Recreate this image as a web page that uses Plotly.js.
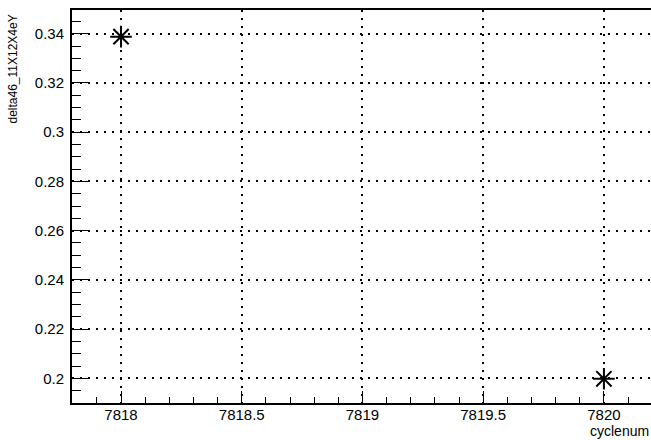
<!DOCTYPE html>
<html>
<head>
<meta charset="utf-8">
<script src="https://cdn.plot.ly/plotly-3.0.1.min.js"></script>
<style>html,body{margin:0;padding:0;background:#fff;overflow:hidden;}#chart{width:651px;height:440px;}</style>
</head>
<body>
<div id="chart"></div>
<script>
const cyclenum = [7818, 7820];
const delta46 = [0.3388, 0.1998];
const xTitle = "cyclenum";
const yTitle = "delta46_11X12X4eY";

const font = "Liberation Sans, Arial, Helvetica, sans-serif";
const trace = {
  x: cyclenum, y: delta46, type: "scatter", mode: "markers",
  marker: {symbol: "asterisk-open", size: 18, color: "#000", line: {color: "#000", width: 2}},
  hoverinfo: "none"
};
const layout = {
  width: 651, height: 440,
  margin: {l: 72, r: 0, t: 10, b: 37, pad: 0},
  paper_bgcolor: "#fff", plot_bgcolor: "#fff",
  showlegend: false,
  separators: ".",
  font: {family: font, size: 15, color: "#000"},
  xaxis: {
    range: [7817.797, 7820.195], tick0: 7818, dtick: 0.5, tickformat: ".6~g",
    ticks: "inside", ticklen: 12, tickwidth: 1, tickcolor: "#000",
    minor: {dtick: 0.1, ticks: "inside", ticklen: 6, tickcolor: "#000", tickwidth: 1, showgrid: false},
    showline: true, linecolor: "#000", linewidth: 2, mirror: true,
    showgrid: true, gridcolor: "#000", gridwidth: 2, griddash: "2px,6px",
    zeroline: false, tickfont: {family: font, size: 15, color: "#000"},
    ticklabelstandoff: -3
  },
  yaxis: {
    range: [0.18997, 0.34963], tick0: 0.2, dtick: 0.02, tickformat: ".3~g",
    ticks: "inside", ticklen: 17, tickwidth: 1, tickcolor: "#000",
    minor: {dtick: 0.005, ticks: "inside", ticklen: 9, tickcolor: "#000", tickwidth: 1, showgrid: false},
    showline: true, linecolor: "#000", linewidth: 2, mirror: false,
    showgrid: true, gridcolor: "#000", gridwidth: 2, griddash: "2px,6px",
    zeroline: false, tickfont: {family: font, size: 15, color: "#000"},
    ticklabelstandoff: 3
  },
  annotations: [
    {text: xTitle, xref: "paper", yref: "paper", x: 1, y: 0, xanchor: "right", yanchor: "top",
     yshift: -18, showarrow: false, font: {family: font, size: 14, color: "#000"}},
    {text: yTitle, xref: "paper", yref: "paper", x: 0, y: 1, xanchor: "right", yanchor: "top",
     xshift: -51, yshift: -3, textangle: -90, showarrow: false, font: {family: font, size: 12, color: "#000"}}
  ]
};
Plotly.newPlot("chart", [trace], layout, {staticPlot: true, displayModeBar: false});
</script>
</body>
</html>
